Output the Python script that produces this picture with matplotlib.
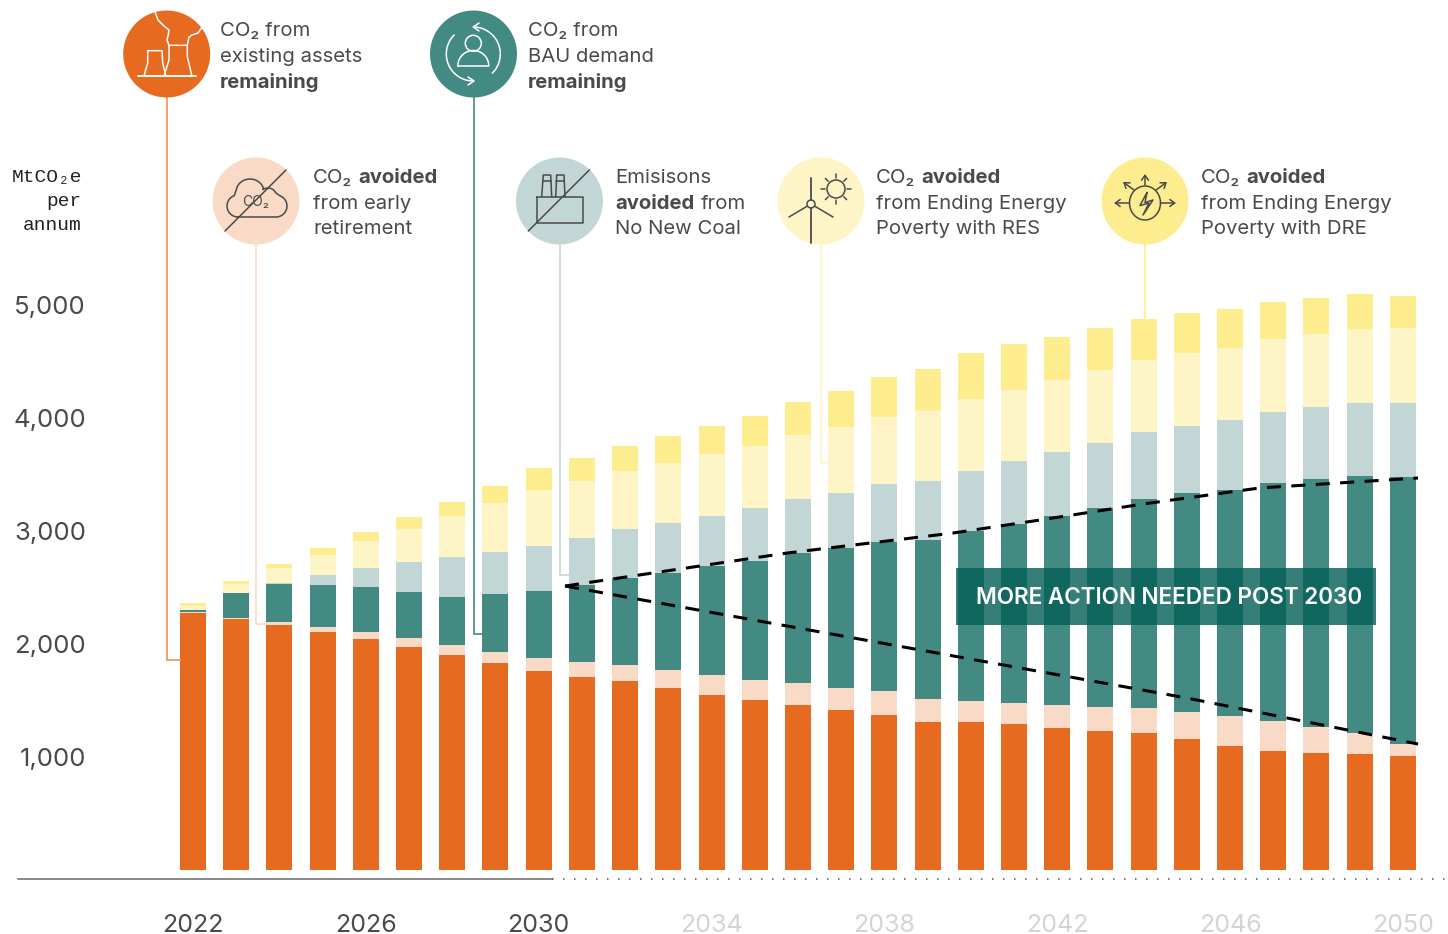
import numpy as np
import matplotlib
matplotlib.use('Agg')
import matplotlib.pyplot as plt
from matplotlib.patches import Circle, Rectangle

FONT = ['Inter', 'DejaVu Sans']
DARK = '#4a4a4a'

years = list(range(2022, 2051))
existing = [2274, 2221, 2168, 2106, 2044, 1973, 1903, 1832, 1761, 1708, 1673, 1611, 1549, 1504, 1460,
            1416, 1372, 1310, 1310, 1292, 1257, 1230, 1212, 1159, 1097, 1053, 1035, 1027, 1009]
early_retirement = [9, 9, 27, 44, 62, 80, 88, 97, 115, 133, 142, 159, 177, 177, 195,
                    195, 212, 204, 186, 186, 204, 212, 221, 239, 265, 265, 230, 186, 106]
bau_demand = [18, 221, 336, 372, 398, 407, 425, 513, 593, 681, 770, 858, 965, 1053, 1151,
              1239, 1319, 1407, 1505, 1584, 1673, 1761, 1850, 1938, 2000, 2106, 2195, 2274, 2363]
no_new_coal = [0, 0, 9, 88, 168, 266, 354, 372, 398, 416, 434, 443, 443, 469, 478,
               487, 513, 522, 531, 558, 566, 575, 593, 593, 620, 628, 637, 646, 655]
res_poverty = [35, 80, 133, 177, 239, 292, 363, 434, 496, 504, 513, 531, 549, 549, 566,
               584, 593, 620, 637, 628, 637, 646, 637, 646, 637, 646, 646, 655, 664]
dre_poverty = [27, 27, 35, 62, 80, 106, 124, 150, 195, 204, 221, 239, 248, 266, 292,
               319, 354, 372, 407, 407, 381, 372, 363, 354, 345, 327, 319, 310, 283]

series = [existing, early_retirement, bau_demand, no_new_coal, res_poverty, dre_poverty]
colors = ['#e66a1f', '#f9dac7', '#438a83', '#c2d7d5', '#fef5c6', '#fded8f']

upper_x = [2030.61, 2035.75, 2039.59, 2041.6, 2043.99, 2046.69, 2050.35]
upper_y = [2513, 2805, 2982, 3097, 3239, 3381, 3469]
lower_x = [2030.61, 2045.0, 2050.35]
lower_y = [2513, 1522, 1115]

y_ticks = [1000, 2000, 3000, 4000, 5000]
x_ticks = [2022, 2026, 2030, 2034, 2038, 2042, 2046, 2050]

fig = plt.figure(figsize=(14.48, 9.34), dpi=100)
W, H = 1448, 934
PX_YEAR = 43.21
PX_UNIT = 113 / 1000

# chart axes: value 0 sits at y=870 in the picture, 2022 at x=193
ax = fig.add_axes([150 / W, (H - 870) / H, (W - 150) / W, 590 / H])
ax.set_xlim(2022 + (150 - 193) / PX_YEAR, 2022 + (W - 193) / PX_YEAR)
ax.set_ylim(0, 590 / PX_UNIT)
ax.patch.set_alpha(0)
for s in ax.spines.values():
    s.set_visible(False)

bottom = np.zeros(len(years))
for values, c in zip(series, colors):
    ax.bar(years, values, width=26 / PX_YEAR, bottom=bottom, color=c, linewidth=0, zorder=2)
    bottom += np.array(values)

ax.plot(upper_x, upper_y, color='black', lw=2.2, dashes=(4.6, 3.4), clip_on=False, zorder=4)
ax.plot(lower_x, lower_y, color='black', lw=2.2, dashes=(4.6, 3.4), clip_on=False, zorder=4)

ax.set_yticks(y_ticks)
ax.set_yticklabels([f'{v:,}' for v in y_ticks], fontsize=18.5, color=DARK, family=FONT)
ax.set_xticks(x_ticks)
ax.set_xticklabels([str(v) for v in x_ticks], fontsize=18, family=FONT)
for lab, yr in zip(ax.get_xticklabels(), x_ticks):
    lab.set_color(DARK if yr <= 2030 else '#d4d4d4')
ax.tick_params(axis='y', length=0, pad=46)
ax.tick_params(axis='x', length=0, pad=31.5)

# overlay in picture pixels for the callouts and icons
ov = fig.add_axes([0, 0, 1, 1])
ov.set_xlim(0, W)
ov.set_ylim(H, 0)
ov.axis('off')
ov.patch.set_alpha(0)


def txt(x, y, s, bold=False, size=14.6, color=DARK, **kw):
    ov.text(x, y, s, fontsize=size, color=color, family=FONT, va='baseline',
            fontweight='bold' if bold else 'normal', **kw)


def stroke(pts, color=DARK, lw=1.1):
    xs, ys = zip(*pts)
    ov.plot(xs, ys, color=color, lw=lw, solid_capstyle='round', solid_joinstyle='round')


def arc(cx, cy, rx, ry, t0, t1, n=40):
    t = np.radians(np.linspace(t0, t1, n))
    return list(zip(cx + rx * np.cos(t), cy + ry * np.sin(t)))


# leader lines
leaders = [
    ([(167, 97), (167, 660), (180, 660)], '#ee9457'),
    ([(255.7, 244), (255.7, 624), (266, 624)], '#f9dac7'),
    ([(474, 97), (474, 634), (482, 634)], '#438a83'),
    ([(560, 244), (560, 575), (569, 575)], '#c2d7d5'),
    ([(821, 244), (821, 463), (828, 463)], '#fef5c6'),
    ([(1145, 244), (1145, 319)], '#fded8f'),
]
for pts, c in leaders:
    xs, ys = zip(*pts)
    ov.plot(xs, ys, color=c, lw=1.2, solid_joinstyle='miter', zorder=1)

# icon discs
discs = [(166.7, 54, '#e66a1f'), (473.5, 54, '#438a83'), (256, 201, '#f9dac7'),
         (559.5, 201, '#c2d7d5'), (821, 201, '#fef5c6'), (1145, 201, '#fded8f')]
for cx, cy, c in discs:
    ov.add_patch(Circle((cx, cy), 43.5, color=c, lw=0, zorder=1.5))

# power plant
stroke([(138.3, 76), (196, 76)], 'white', 1.4)
stroke([(144.3, 75), (147.7, 63), (147.7, 50.7), (162, 50.7), (162.7, 63), (165.7, 75)], 'white')
stroke([(164.3, 75), (169, 60), (169, 45.3), (187.3, 45.3), (187.3, 56.7), (191.7, 75)], 'white')
stroke([(155, 11.7), (158, 20), (164, 26), (169, 30), (168, 36), (167, 40), (169, 45.3)], 'white')
stroke([(187.3, 45.3), (189, 37), (192, 35), (198, 33), (201.5, 28)], 'white')

# person with cycle arrows
ov.add_patch(Circle((473.3, 43.3), 8, fill=False, ec='white', lw=1.1, zorder=2))
stroke(arc(473.3, 66, 15.5, 15.5, 180, 360) + [(457.8, 66)], 'white')
stroke(arc(473.3, 54, 27, 27, -90, 45), 'white')
stroke(arc(473.3, 54, 27, 27, 90, 225), 'white')
stroke([(479, 23), (473.3, 27), (479, 31)], 'white')
stroke([(468, 77), (474, 81), (468, 85)], 'white')

# cloud, struck through
stroke(arc(238, 206, 11, 11, 90, 250) + arc(250, 192, 14, 13, 190, 345) + arc(268, 195, 8, 7, 230, 340)
       + arc(276, 206, 11, 11, -70, 90) + [(238, 217)])
txt(256, 206.5, 'CO₂', size=10, ha='center')
stroke([(225, 231), (286, 170)])

# factory, struck through
stroke([(537.3, 196.7), (583.3, 196.7), (583.3, 223.3), (537.3, 223.3), (537.3, 196.7)])
stroke([(541.7, 196.7), (543.3, 175), (550.7, 175), (551.7, 196.7)])
stroke([(555.7, 196.7), (556.7, 175), (564, 175), (565, 196.7)])
stroke([(542.8, 181), (551, 181)])
stroke([(556.4, 181), (564.4, 181)])
stroke([(528.3, 231), (589.3, 170)])

# wind turbine and sun
stroke([(811, 178), (811, 200)], lw=1.3)
stroke([(811, 208), (811, 243)], lw=1.3)
stroke([(807.5, 206), (789, 217)])
stroke([(814.5, 206), (833, 217)])
ov.add_patch(Circle((811, 204), 4, fill=False, ec=DARK, lw=1.1, zorder=2))
ov.add_patch(Circle((836, 189), 9, fill=False, ec=DARK, lw=1.1, zorder=2))
for a in range(0, 360, 45):
    r = np.radians(a)
    stroke([(836 + 11 * np.cos(r), 189 + 11 * np.sin(r)), (836 + 15 * np.cos(r), 189 + 15 * np.sin(r))])

# distributed energy arrows
stroke(arc(1145, 203, 15.5, 17, 0, 360))
stroke([(1147, 192.5), (1140, 205.6), (1149, 203), (1143, 215), (1153, 200), (1145, 202.5), (1147, 192.5)])
for x0, y0, x1, y1 in [(1145, 185, 1145, 174), (1129, 203, 1114, 203), (1161, 203, 1176, 203),
                       (1134, 190, 1123, 182), (1156, 190, 1167, 182)]:
    ov.annotate('', xy=(x1, y1), xytext=(x0, y0),
                arrowprops=dict(arrowstyle='->,head_length=0.35,head_width=0.25', color=DARK, lw=1.1,
                                shrinkA=0, shrinkB=0))

# callout text
txt(220, 36, 'CO₂ from')
txt(220, 62, 'existing assets')
txt(220, 88, 'remaining', bold=True)
txt(528, 36, 'CO₂ from')
txt(528, 62, 'BAU demand')
txt(528, 88, 'remaining', bold=True)
txt(313, 183, 'CO₂')
txt(358, 183, 'avoided', bold=True)
txt(313, 209, 'from early')
txt(313, 234, 'retirement')
txt(615, 183, 'Emisisons')
txt(615, 209, 'avoided', bold=True)
txt(701, 209, 'from')
txt(615, 234, 'No New Coal')
txt(876, 183, 'CO₂')
txt(921, 183, 'avoided', bold=True)
txt(876, 209, 'from Ending Energy')
txt(876, 234, 'Poverty with RES')
txt(1201, 183, 'CO₂')
txt(1246, 183, 'avoided', bold=True)
txt(1201, 209, 'from Ending Energy')
txt(1201, 234, 'Poverty with DRE')

# unit label
MONO = ['Liberation Mono', 'DejaVu Sans Mono']
ov.text(82, 182, 'MtCO₂e', fontsize=14, ha='right', color='#222222', family=MONO)
ov.text(82, 206, 'per', fontsize=14, ha='right', color='#222222', family=MONO)
ov.text(82, 230, 'annum', fontsize=14, ha='right', color='#222222', family=MONO)

# banner
ov.add_patch(Rectangle((956, 568), 420, 57, color='#035f57', alpha=0.8, lw=0, zorder=5))
ov.text(1169.5, 598, 'MORE ACTION NEEDED POST 2030', fontsize=16.2, color='white', family=FONT,
        fontweight='semibold', ha='center', va='center', zorder=6)

# baseline, solid up to 2030 then dotted
ov.plot([18, 552], [879, 879], color='#777777', lw=1.2)
ov.plot([552, 1445], [879, 879], color='#555555', lw=1.1, dashes=(1, 6.2))

fig.savefig('out.png', dpi=100)
